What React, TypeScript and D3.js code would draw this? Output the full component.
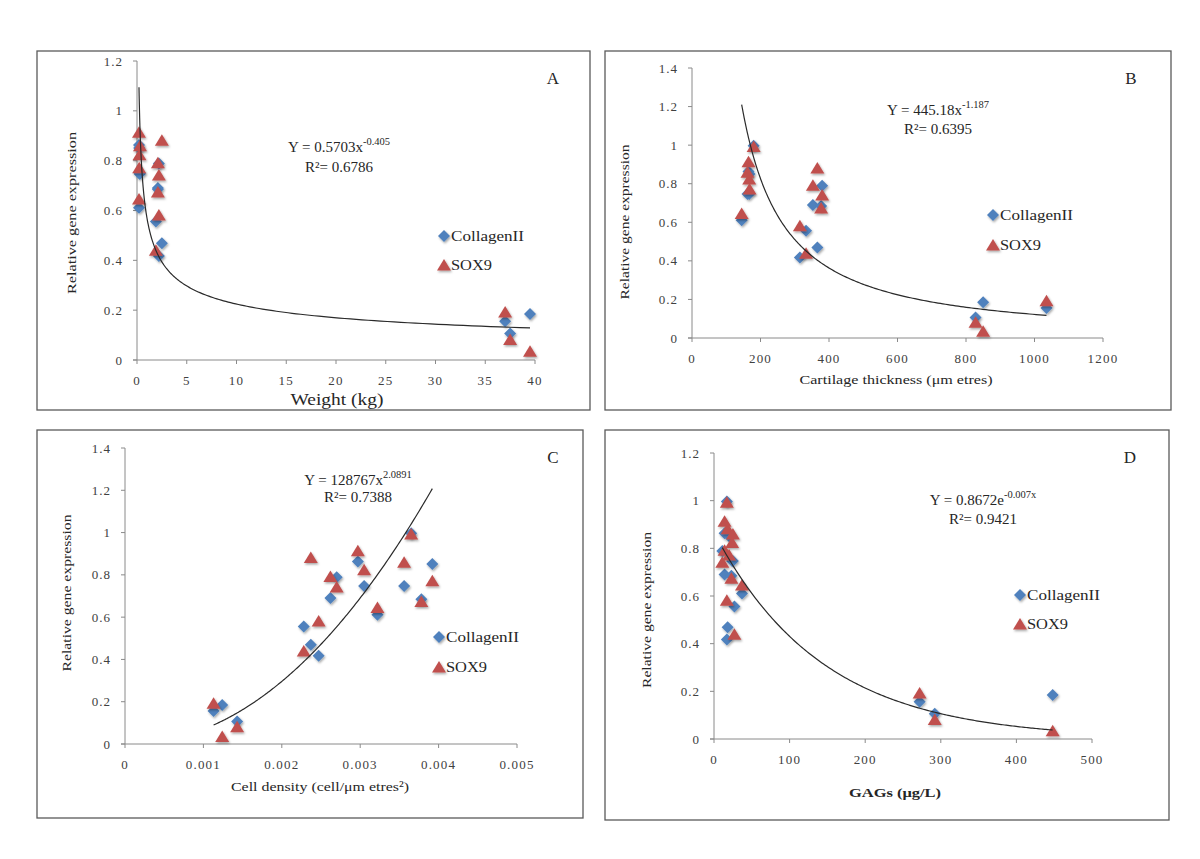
import { useEffect, useRef } from "react";
import * as d3 from "d3";

// relative gene expression per sample (same 15 samples in every panel)
const collagenII = [0.156, 0.185, 0.106, 0.556, 0.469, 0.417, 0.69, 0.789, 0.863, 0.747, 0.611, 0.747, 0.997, 0.685, 0.851];
const sox9 = [0.193, 0.035, 0.082, 0.44, 0.882, 0.582, 0.792, 0.742, 0.914, 0.824, 0.646, 0.86, 0.993, 0.674, 0.772];

// predictors per sample
const weightKg = [37, 39.5, 37.5, 1.9, 2.5, 2.2, 2.1, 2.2, 0.2, 0.25, 0.2, 0.3, null, 2.1, 0.22];
const thicknessUm = [1035, 850, 828, 333, 366, 315, 353, 380, 165, 167, 145, 162, 180, 377, 168];
const cellDensity = [0.00113, 0.00124, 0.00143, 0.00228, 0.00237, 0.00247, 0.00262, 0.0027, 0.00297, 0.00305, 0.00322, 0.00356, 0.00365, 0.00378, 0.00392];
const gagsUgL = [272, 448, 292, 27, 18, 17, 14, 11, 14, 24, 37, 25, 17, 23, 20];

// tick labels
const weightTicks = [0, 5, 10, 15, 20, 25, 30, 35, 40];
const thicknessTicks = [0, 200, 400, 600, 800, 1000, 1200];
const densityTicks = [0, 0.001, 0.002, 0.003, 0.004, 0.005];
const gagsTicks = [0, 100, 200, 300, 400, 500];
const expr12Ticks = [0, 0.2, 0.4, 0.6, 0.8, 1, 1.2];
const expr14Ticks = [0, 0.2, 0.4, 0.6, 0.8, 1, 1.2, 1.4];

// trendline equations as printed
const fitA = { kind: "power", a: 0.5703, b: -0.405, eq: ["Y = 0.5703x", "-0.405"], r2: "R²= 0.6786" };
const fitB = { kind: "power", a: 445.18, b: -1.187, eq: ["Y = 445.18x", "-1.187"], r2: "R²= 0.6395" };
const fitC = { kind: "power", a: 128767, b: 2.0891, eq: ["Y = 128767x", "2.0891"], r2: "R²= 0.7388" };
const fitD = { kind: "exp", a: 0.8672, b: -0.007, eq: ["Y = 0.8672e", "-0.007x"], r2: "R²= 0.9421" };

const BLUE = "#4f81bd";
const RED = "#c0504d";
const FONT = "'Liberation Serif', 'DejaVu Serif', serif";

const panels = [
	{
		label: "A", xs: weightKg, fit: fitA, xTicks: weightTicks, yTicks: expr12Ticks,
		frame: [37, 51, 553, 359], plot: { l: 137, r: 535, t: 61, b: 360 },
		labelPos: [553, 84], eqPos: [339, 152, 172], legend: [444, 236, 265],
		xTitle: { text: "Weight (kg)", x: 337, y: 405, size: 17, len: 93, bold: false },
		yTitle: { text: "Relative gene  expression", x: 76, y: 213, len: 162 },
	},
	{
		label: "B", xs: thicknessUm, fit: fitB, xTicks: thicknessTicks, yTicks: expr14Ticks,
		frame: [605, 51, 566, 359], plot: { l: 692, r: 1103, t: 68, b: 338 },
		labelPos: [1131, 84], eqPos: [938, 115, 134], legend: [993, 215, 245],
		xTitle: { text: "Cartilage thickness (μm etres)", x: 896, y: 384, size: 13.5, len: 193, bold: false },
		yTitle: { text: "Relative gene expression", x: 629, y: 222, len: 155 },
	},
	{
		label: "C", xs: cellDensity, fit: fitC, xTicks: densityTicks, yTicks: expr14Ticks,
		frame: [37, 430, 546, 388], plot: { l: 125, r: 517, t: 448, b: 744 },
		labelPos: [553, 463], eqPos: [358, 485, 502], legend: [439, 637, 667],
		xTitle: { text: "Cell density (cell/μm etres²)", x: 320, y: 791, size: 13.5, len: 178, bold: false },
		yTitle: { text: "Relative gene expression", x: 71, y: 593, len: 157 },
	},
	{
		label: "D", xs: gagsUgL, fit: fitD, xTicks: gagsTicks, yTicks: expr12Ticks,
		frame: [605, 430, 564, 390], plot: { l: 714, r: 1092, t: 453, b: 739 },
		labelPos: [1130, 463], eqPos: [983, 505, 524], legend: [1020, 595, 624],
		xTitle: { text: "GAGs (μg/L)", x: 895, y: 797, size: 13.5, len: 92, bold: true },
		yTitle: { text: "Relative gene expression", x: 651, y: 610, len: 156 },
	},
];

const diamond = (cx, cy) => `M${cx},${cy - 6}L${cx + 6},${cy}L${cx},${cy + 6}L${cx - 6},${cy}Z`;
const triangle = (cx, cy) => `M${cx},${cy - 6}L${cx + 7},${cy + 5.5}L${cx - 7},${cy + 5.5}Z`;

const App = () => {
	const svgRef = useRef(null);

	useEffect(() => {
		const svg = d3.select(svgRef.current);
		svg.selectAll("*").remove();

		const defs = svg.append("defs");
		defs.append("filter")
			.attr("id", "shadow")
			.attr("x", "-50%").attr("y", "-50%").attr("width", "200%").attr("height", "200%")
			.append("feDropShadow")
			.attr("dx", 1).attr("dy", 1.5).attr("stdDeviation", 1)
			.attr("flood-color", "#000").attr("flood-opacity", 0.35);

		svg.append("rect").attr("width", 1200).attr("height", 859).attr("fill", "#fff");

		panels.forEach((p) => {
			const g = svg.append("g");
			const [fx, fy, fw, fh] = p.frame;
			g.append("rect")
				.attr("x", fx).attr("y", fy).attr("width", fw).attr("height", fh)
				.attr("fill", "none").attr("stroke", "#5a5a5a").attr("stroke-width", 1.3);

			const yMax = p.yTicks[p.yTicks.length - 1];
			const xMax = p.xTicks[p.xTicks.length - 1];
			const x = d3.scaleLinear().domain([0, xMax]).range([p.plot.l, p.plot.r]);
			const y = d3.scaleLinear().domain([0, yMax]).range([p.plot.b, p.plot.t]);

			// axes
			const axisColor = "#8a8a8a";
			g.append("line")
				.attr("x1", x(0)).attr("x2", x(0)).attr("y1", y(0)).attr("y2", y(yMax))
				.attr("stroke", axisColor);
			g.append("line")
				.attr("x1", x(0) - 4).attr("x2", x(xMax)).attr("y1", y(0)).attr("y2", y(0))
				.attr("stroke", axisColor);

			g.selectAll(".yt")
				.data(p.yTicks)
				.enter()
				.append("line")
				.attr("x1", x(0) - 4).attr("x2", x(0))
				.attr("y1", (d) => y(d)).attr("y2", (d) => y(d))
				.attr("stroke", axisColor);
			g.selectAll(".ytl")
				.data(p.yTicks)
				.enter()
				.append("text")
				.attr("x", x(0) - 14)
				.attr("y", (d) => y(d) + 4.5)
				.attr("text-anchor", "end")
				.attr("font-family", FONT)
				.attr("font-size", 13)
				.attr("letter-spacing", 1)
				.attr("fill", "#404040")
				.text((d) => String(d));

			g.selectAll(".xt")
				.data(p.xTicks)
				.enter()
				.append("line")
				.attr("x1", (d) => x(d)).attr("x2", (d) => x(d))
				.attr("y1", y(0)).attr("y2", y(0) + 4)
				.attr("stroke", axisColor);
			g.selectAll(".xtl")
				.data(p.xTicks)
				.enter()
				.append("text")
				.attr("x", (d) => x(d))
				.attr("y", y(0) + 25)
				.attr("text-anchor", "middle")
				.attr("font-family", FONT)
				.attr("font-size", 13)
				.attr("letter-spacing", 1.2)
				.attr("fill", "#404040")
				.text((d) => String(d));

			// axis titles
			g.append("text")
				.attr("x", p.xTitle.x).attr("y", p.xTitle.y)
				.attr("text-anchor", "middle")
				.attr("font-family", FONT)
				.attr("font-size", p.xTitle.size)
				.attr("font-weight", p.xTitle.bold ? "bold" : "normal")
				.attr("textLength", p.xTitle.len)
				.attr("lengthAdjust", "spacingAndGlyphs")
				.attr("fill", "#262626")
				.text(p.xTitle.text);
			g.append("text")
				.attr("transform", `translate(${p.yTitle.x},${p.yTitle.y}) rotate(-90)`)
				.attr("text-anchor", "middle")
				.attr("font-family", FONT)
				.attr("font-size", 13.5)
				.attr("textLength", p.yTitle.len)
				.attr("lengthAdjust", "spacingAndGlyphs")
				.attr("fill", "#262626")
				.text(p.yTitle.text);

			// points
			const pts = p.xs
				.map((xv, i) => ({ xv, c: collagenII[i], s: sox9[i] }))
				.filter((d) => d.xv != null);
			g.append("g")
				.attr("filter", "url(#shadow)")
				.selectAll("path")
				.data(pts)
				.enter()
				.append("path")
				.attr("d", (d) => diamond(x(d.xv), y(d.c)))
				.attr("fill", BLUE);
			g.append("g")
				.attr("filter", "url(#shadow)")
				.selectAll("path")
				.data(pts)
				.enter()
				.append("path")
				.attr("d", (d) => triangle(x(d.xv), y(d.s)))
				.attr("fill", RED);

			// trendline from printed equation over the data range
			const [lo, hi] = d3.extent(pts, (d) => d.xv);
			const n = 200;
			const f = p.fit;
			const curve = d3.range(n).map((i) => {
				const xv = f.kind === "power" ? lo * Math.pow(hi / lo, i / (n - 1)) : lo + ((hi - lo) * i) / (n - 1);
				const yv = f.kind === "power" ? f.a * Math.pow(xv, f.b) : f.a * Math.exp(f.b * xv);
				return [xv, yv];
			});
			g.append("path")
				.attr("d", d3.line().x((d) => x(d[0])).y((d) => y(d[1]))(curve))
				.attr("fill", "none")
				.attr("stroke", "#2a2a2a")
				.attr("stroke-width", 1.2);

			// equation
			const eq = g.append("text")
				.attr("x", p.eqPos[0]).attr("y", p.eqPos[1])
				.attr("text-anchor", "middle")
				.attr("font-family", FONT)
				.attr("font-size", 15)
				.attr("fill", "#262626");
			eq.append("tspan").text(f.eq[0]);
			eq.append("tspan").attr("dy", -7).attr("font-size", 10.5).text(f.eq[1]);
			g.append("text")
				.attr("x", p.eqPos[0]).attr("y", p.eqPos[2])
				.attr("text-anchor", "middle")
				.attr("font-family", FONT)
				.attr("font-size", 15)
				.attr("fill", "#262626")
				.text(f.r2);

			// panel letter
			g.append("text")
				.attr("x", p.labelPos[0]).attr("y", p.labelPos[1])
				.attr("text-anchor", "middle")
				.attr("font-family", FONT)
				.attr("font-size", 17)
				.attr("fill", "#262626")
				.text(p.label);

			// legend
			const [lx, ly1, ly2] = p.legend;
			g.append("path").attr("d", diamond(lx, ly1)).attr("fill", BLUE).attr("filter", "url(#shadow)");
			g.append("path").attr("d", triangle(lx, ly2)).attr("fill", RED).attr("filter", "url(#shadow)");
			g.append("text")
				.attr("x", lx + 7).attr("y", ly1 + 5)
				.attr("font-family", FONT)
				.attr("font-size", 14)
				.attr("textLength", 73)
				.attr("lengthAdjust", "spacingAndGlyphs")
				.attr("fill", "#262626")
				.text("CollagenII");
			g.append("text")
				.attr("x", lx + 7).attr("y", ly2 + 5)
				.attr("font-family", FONT)
				.attr("font-size", 14)
				.attr("textLength", 41)
				.attr("lengthAdjust", "spacingAndGlyphs")
				.attr("fill", "#262626")
				.text("SOX9");
		});
	}, []);

	return (
		<svg
			ref={svgRef}
			width={1200}
			height={859}
			style={{ position: "absolute", left: 0, top: 0 }}
		></svg>
	);
};

export default App;
